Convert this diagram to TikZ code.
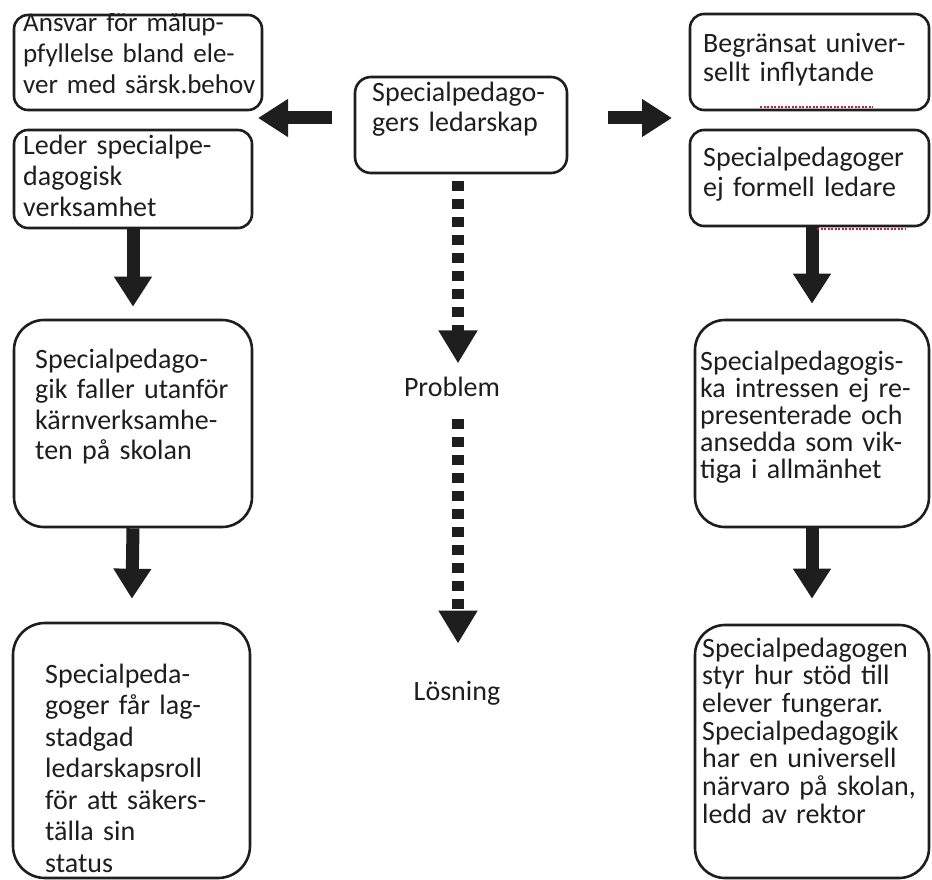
\documentclass[tikz,border=0pt]{standalone}
\usepackage{fontspec}
\setmainfont{Carlito}
\usetikzlibrary{arrows.meta}
\definecolor{ink}{HTML}{1E1E1E}
\definecolor{squig}{HTML}{C0203A}
\begin{document}
\begin{tikzpicture}[x=1pt,y=-1pt,
  box/.style={draw=ink, line width=2.6pt, rounded corners=#1, inner sep=0pt},
  box/.default=14pt,
  txt/.style={anchor=base west, inner sep=0pt, align=left, text=ink, text width=260pt, font=\fontsize{28}{#1}\selectfont},
  lbl/.style={anchor=base, inner sep=0pt, text=ink, font=\fontsize{28}{30}\selectfont},
  fat/.style={draw=ink, line width=13pt, -{Triangle[length=30pt,width=36pt]}},
  dotfat/.style={draw=ink, line width=12pt, dash pattern=on 10pt off 8pt, -{Triangle[length=33pt,width=37pt]}}
]
\useasboundingbox (0,0) rectangle (932,880);
\fill[white] (0,0) rectangle (932,880);

% boxes
\node[box, minimum width=248pt, minimum height=95pt] (A) at (138,62.5) {};
\node[box, minimum width=238pt, minimum height=98pt] (B) at (133,179) {};
\node[box=16pt, minimum width=212pt, minimum height=96pt] (M) at (461,125) {};
\node[box, minimum width=239pt, minimum height=96pt] (C) at (809.5,62) {};
\node[box, minimum width=239pt, minimum height=96pt] (D) at (809.5,178) {};
\node[box=30pt, minimum width=238pt, minimum height=207pt] (E) at (133,423.5) {};
\node[box=32pt, minimum width=237pt, minimum height=255pt] (F) at (131.5,750.5) {};
\node[box=30pt, minimum width=234pt, minimum height=207pt] (G) at (812,423.5) {};
\node[box=30pt, minimum width=234pt, minimum height=253pt] (H) at (812,751.5) {};

% texts
\begin{scope}
\clip (A.south west) rectangle (A.north east);
\node[txt=31, font=\fontsize{27}{31}\selectfont] (tA) at (23,32) {Ansvar för målup-\\pfyllelse bland ele-\\ver med särsk.behov};
\end{scope}
\node[txt=31] (tB) at (23,155) {Leder specialpe-\\dagogisk\\verksamhet};
\node[txt=30] (tM) at (372,102) {Specialpedago-\\gers ledarskap};
\node[txt=29] (tC) at (703,53) {Begränsat univer-\\sellt inflytande};
\node[txt=30] (tD) at (703,167) {Specialpedagoger\\ej formell ledare};
\node[txt=30.5] (tE) at (35,368) {Specialpedago-\\gik faller utanför\\kärnverksamhe-\\ten på skolan};
\node[txt=31.5] (tF) at (45,683) {Specialpeda-\\goger får lag-\\stadgad\\ledarskapsroll\\för att säkers-\\tälla sin\\status};
\node[txt=27] (tG) at (700,370) {Specialpedagogis-\\ka intressen ej re-\\presenterade och\\ansedda som vik-\\tiga i allmänhet};
\node[txt=27.7] (tH) at (702,657) {Specialpedagogen\\styr hur stöd till\\elever fungerar.\\Specialpedagogik\\har en universell\\närvaro på skolan,\\ledd av rektor};

\node[lbl] (P) at (452,396) {Problem};
\node[lbl] (L) at (457,700) {Lösning};

% arrows
\coordinate (lt) at (258,118);
\coordinate (rt) at (672,118);
\draw[fat, shorten <=22pt] (M.west |- lt) -- (lt);
\draw[fat, shorten <=40pt] (M.east |- rt) -- (rt);
\draw[fat, shorten >=12pt] (B.south) -- (E.north);
\draw[fat, shorten >=23pt] (E.south) -- (F.north);
\draw[fat, shorten >=15pt] (D.south -| G.north) -- (G.north);
\draw[fat, shorten >=25pt] (G.south) -- (H.north);

\draw[dotfat, shorten <=7pt, shorten >=13pt] ([xshift=-3pt]M.south) -- ([xshift=-3pt]M.south |- P.north);
\draw[dotfat, shorten <=23pt, shorten >=37pt] ([xshift=-3pt]M.south |- P.south) -- ([xshift=-3pt]M.south |- L.north);

% spell-check squiggles
\draw[squig, line width=1.2pt, dash pattern=on 2pt off 1.5pt] (760,107) -- (873,107);
\draw[squig, line width=1.2pt, dash pattern=on 2pt off 1.5pt] (817,229) -- (905,229);
\end{tikzpicture}
\end{document}
